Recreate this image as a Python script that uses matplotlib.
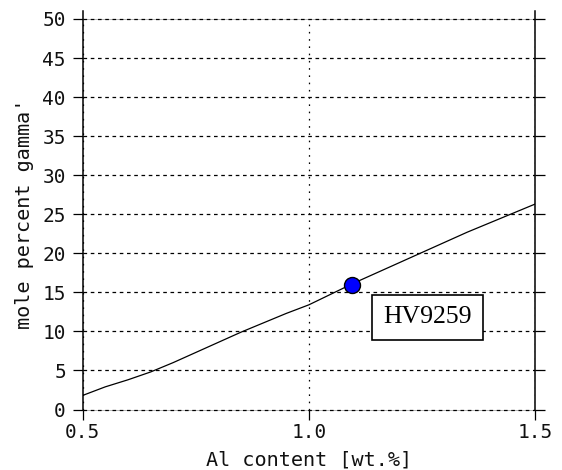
import matplotlib
matplotlib.use("Agg")

import numpy as np
import matplotlib.pyplot as plt

# calculated gamma' fraction vs Al content
al_content = [0.50, 0.55, 0.60, 0.65, 0.70, 0.75, 0.80, 0.85, 0.90, 0.95, 1.00,
              1.05, 1.10, 1.15, 1.20, 1.25, 1.30, 1.35, 1.40, 1.45, 1.50]
gamma_prime = [1.8, 2.9, 3.8, 4.8, 6.0, 7.3, 8.6, 9.9, 11.1, 12.3, 13.4,
               14.8, 16.2, 17.5, 18.8, 20.1, 21.4, 22.7, 23.9, 25.1, 26.3]

# measured alloy
alloy_name = "HV9259"
alloy_al = 1.095
alloy_gamma = 16.0

xticks = [0.5, 1.0, 1.5]
yticks = list(range(0, 51, 5))

mono = "DejaVu Sans Mono"

fig = plt.figure(figsize=(5.62, 4.70), dpi=100)
ax = fig.add_axes([0.147, 0.1287, 0.805, 0.8309])

ax.plot(al_content, gamma_prime, color="black", lw=0.9, zorder=3)
ax.plot([alloy_al], [alloy_gamma], "o", ms=11.5, mfc="#0000ff", mec="black",
        mew=1.0, zorder=4)

ax.text(1.262, 11.8, alloy_name, family="Liberation Serif", fontsize=18.5,
        ha="center", va="center", zorder=5,
        bbox=dict(boxstyle="square,pad=0.44", fc="white", ec="black", lw=1.2))

ax.set_xlim(0.5, 1.5)
ax.set_ylim(0, 50)
ax.set_xticks(xticks)
ax.set_yticks(yticks)
ax.set_xticklabels(["%.1f" % v for v in xticks])
ax.set_yticklabels([str(v) for v in yticks])

# dashed horizontal grid, dotted vertical grid
ax.set_axisbelow("line")
ax.yaxis.grid(True, color="black", lw=0.9, linestyle=(0, (2.9, 2.9)))
ax.xaxis.grid(True, color="black", lw=0.9, linestyle=(0, (1.3, 4.5)))
# keep the 0 and 50 grid lines whole on the frame edges
for gl in ax.get_ygridlines():
    gl.set_clip_on(False)

for side in ("top", "bottom"):
    ax.spines[side].set_color("#aaaaaa")
    ax.spines[side].set_linewidth(0.6)
    ax.spines[side].set_zorder(1)
for side in ("left", "right"):
    ax.spines[side].set_linewidth(1.1)
    ax.spines[side].set_bounds(0, 51.0)

ax.tick_params(axis="y", which="major", direction="out", length=7, width=0.9,
               left=True, right=True, labelleft=True, labelright=False, pad=5,
               labelcolor="#111111")
ax.tick_params(axis="x", which="major", direction="out", length=7, width=0.9,
               bottom=True, top=False, pad=3, labelcolor="#111111")

for lbl in ax.get_xticklabels() + ax.get_yticklabels():
    lbl.set_family(mono)
    lbl.set_fontsize(14)

ax.set_xlabel("Al content [wt.%]", family=mono, fontsize=14.5, labelpad=6,
              color="#111111")
ax.set_ylabel("mole percent gamma'", family=mono, fontsize=14.5, labelpad=6,
              color="#111111")

fig.savefig("out.png", dpi=100)
